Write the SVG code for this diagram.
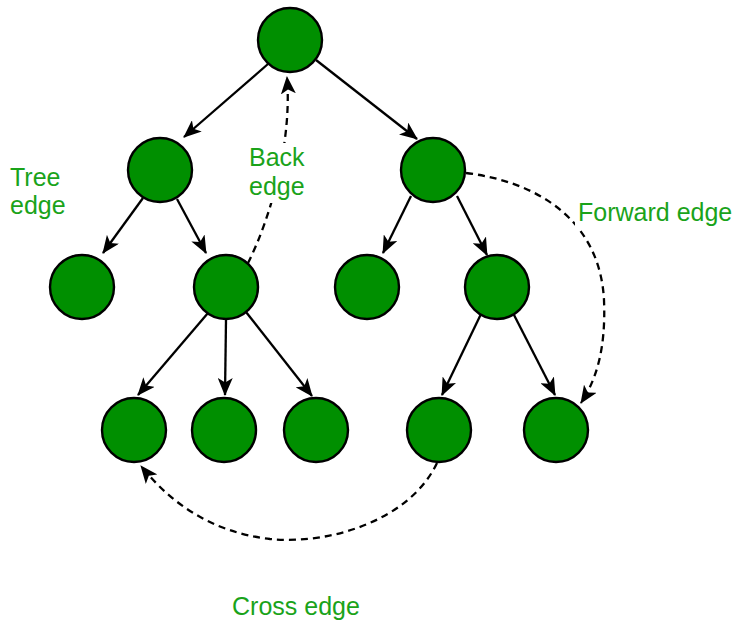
<svg xmlns="http://www.w3.org/2000/svg" width="739" height="621" viewBox="0 0 739 621">
  <style>
    .node { fill: #008f00; stroke: #000; stroke-width: 2.4; }
    .edge { fill: none; stroke: #000; stroke-width: 2.3; }
    .dash { stroke-dasharray: 7 5; }
    .lbl { font-family: "Liberation Sans", Arial, sans-serif; font-size: 25px; fill: #1aa31a; }
  </style>
  <defs>
    <marker id="arrow" markerUnits="userSpaceOnUse" markerWidth="18" markerHeight="15" viewBox="0 0 18 15" refX="17" refY="7.5" orient="auto">
      <path d="M0,0 L18,7.5 L0,15 L4.5,7.5 z" fill="#000"/>
    </marker>
  </defs>
  <rect width="739" height="621" fill="#fff"/>

  <g id="connectors">
    <!-- tree edges -->
    <line class="edge" x1="268" y1="64" x2="184" y2="137" marker-end="url(#arrow)"/>
    <line class="edge" x1="316" y1="60" x2="417" y2="139" marker-end="url(#arrow)"/>
    <line class="edge" x1="143" y1="198" x2="103" y2="253" marker-end="url(#arrow)"/>
    <line class="edge" x1="177" y1="199" x2="206" y2="253" marker-end="url(#arrow)"/>
    <line class="edge" x1="411" y1="196" x2="383" y2="253" marker-end="url(#arrow)"/>
    <line class="edge" x1="457" y1="196" x2="487" y2="255" marker-end="url(#arrow)"/>
    <line class="edge" x1="208" y1="313" x2="138" y2="395" marker-end="url(#arrow)"/>
    <line class="edge" x1="226" y1="320" x2="225" y2="395" marker-end="url(#arrow)"/>
    <line class="edge" x1="246" y1="312" x2="312" y2="396" marker-end="url(#arrow)"/>
    <line class="edge" x1="481" y1="314" x2="442" y2="395" marker-end="url(#arrow)"/>
    <line class="edge" x1="513" y1="313" x2="555" y2="395" marker-end="url(#arrow)"/>
    <!-- back edge -->
    <path class="edge dash" d="M248,263 C272,215 292,140 287,77" marker-end="url(#arrow)"/>
    <!-- forward edge -->
    <path class="edge dash" d="M466,173 C540,182 600,222 604,300 C606,350 596,380 581,403" marker-end="url(#arrow)"/>
    <!-- cross edge -->
    <path class="edge dash" d="M437,463 C410,520 330,545 270,539 C210,532 170,502 141,466" marker-end="url(#arrow)"/>
  </g>

  <g id="n-root"><circle class="node" cx="290" cy="40" r="32"/></g>
  <g id="n-a"><circle class="node" cx="160" cy="170" r="32"/></g>
  <g id="n-b"><circle class="node" cx="433" cy="170" r="32"/></g>
  <g id="n-a1"><circle class="node" cx="82" cy="287" r="32"/></g>
  <g id="n-a2"><circle class="node" cx="226" cy="287" r="32"/></g>
  <g id="n-b1"><circle class="node" cx="367" cy="287" r="32"/></g>
  <g id="n-b2"><circle class="node" cx="497" cy="287" r="32"/></g>
  <g id="n-a21"><circle class="node" cx="134" cy="430" r="32"/></g>
  <g id="n-a22"><circle class="node" cx="224" cy="430" r="32"/></g>
  <g id="n-a23"><circle class="node" cx="316" cy="430" r="32"/></g>
  <g id="n-b21"><circle class="node" cx="439" cy="430" r="32"/></g>
  <g id="n-b22"><circle class="node" cx="556" cy="430" r="32"/></g>

  <g id="labels">
    <text class="lbl" x="10" y="186">Tree</text>
    <text class="lbl" x="10" y="214">edge</text>
    <rect x="246" y="143" width="62" height="60" fill="#fff"/>
    <text class="lbl" x="249" y="166">Back</text>
    <text class="lbl" x="249" y="195">edge</text>
    <rect x="575" y="200" width="162" height="28" fill="#fff"/>
    <text class="lbl" x="578" y="221">Forward edge</text>
    <text class="lbl" x="232" y="615">Cross edge</text>
  </g>
</svg>
